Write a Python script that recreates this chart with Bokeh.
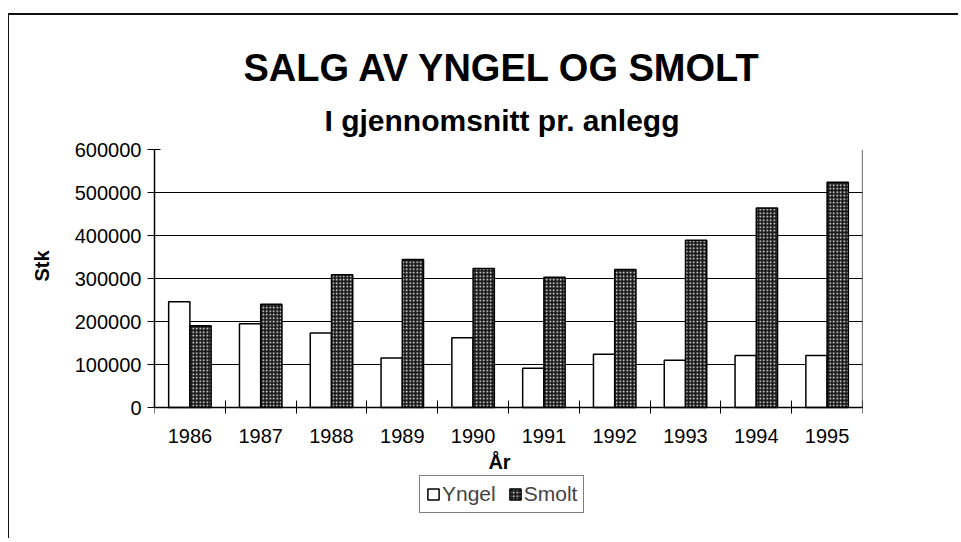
from bokeh.plotting import figure
from bokeh.models import (ColumnDataSource, FixedTicker, Legend, LegendItem, Label,
                          Range1d, BasicTickFormatter, Title)
from bokeh.transform import dodge
from bokeh.embed import file_html
from bokeh.resources import INLINE

# ---- data ----
years = [1986, 1987, 1988, 1989, 1990, 1991, 1992, 1993, 1994, 1995]
yngel = [246000, 195000, 173000, 115000, 162000, 91000, 124000, 110000, 121000, 121000]
smolt = [190000, 240000, 309000, 344000, 323000, 303000, 321000, 389000, 464000, 524000]
y_ticks = [0, 100000, 200000, 300000, 400000, 500000, 600000]
series_names = ["Yngel", "Smolt"]
title_text = "SALG AV YNGEL OG SMOLT"
subtitle_text = "I gjennomsnitt pr. anlegg"
x_label = "År"
y_label = "Stk"

FONT = "Liberation Sans"

# layout (pixels)
W, H = 950, 525
B_LEFT, B_RIGHT, B_TOP, B_BOTTOM = 143, 97, 134, 5
PLOT_H = 258                      # height of the value area (0 .. max)
FRAME_H = H - B_TOP - B_BOTTOM    # frame also holds the axis texts and legend
y_max = y_ticks[-1]
y_min = y_max - y_max * FRAME_H / PLOT_H

src = ColumnDataSource(dict(year=years, yngel=yngel, smolt=smolt))

p = figure(width=W, height=H, output_backend="svg", toolbar_location=None,
           x_range=Range1d(years[0] - 0.5, years[-1] + 0.5),
           y_range=Range1d(y_min, y_max),
           min_border_left=B_LEFT, min_border_right=B_RIGHT, min_border_top=B_TOP,
           min_border_bottom=B_BOTTOM, title=None)
p.margin = (13, 0, 0, 8)
p.styles = {"border-left": "1px solid #111", "border-top": "2px solid #111"}
p.background_fill_color = "white"
p.border_fill_color = "white"
p.outline_line_color = None

r1 = p.vbar(x=dodge("year", -0.15, range=p.x_range), top="yngel", width=0.3, source=src,
            fill_color="white", line_color="black", line_width=1.5)
r2 = p.vbar(x=dodge("year", 0.15, range=p.x_range), top="smolt", width=0.3, source=src,
            fill_color="#1a1a1a", line_color="black", line_width=1.5,
            hatch_pattern="dot", hatch_color="white", hatch_scale=3.5, hatch_weight=1.2)

# right edge of the plot area
p.segment(x0=[years[-1] + 0.5], y0=[y_ticks[0]], x1=[years[-1] + 0.5], y1=[y_max],
          line_color="black", line_width=1.2)

# x axis: labels at centres, tick marks at category boundaries (minor ticks)
xt = FixedTicker(ticks=years, minor_ticks=[y + 0.5 for y in [years[0] - 1] + years])
p.xaxis.fixed_location = y_ticks[0]
p.xaxis.ticker = xt
p.xaxis.formatter = BasicTickFormatter(use_scientific=False)
p.xaxis.major_tick_in = 0
p.xaxis.major_tick_out = 0
p.xaxis.minor_tick_in = 7
p.xaxis.minor_tick_out = 6
p.xaxis.minor_tick_line_color = "black"
p.xaxis.major_label_standoff = 15
p.xaxis.axis_line_color = "black"
p.xaxis.axis_line_width = 1.5

p.yaxis.ticker = FixedTicker(ticks=y_ticks, minor_ticks=[])
p.yaxis.bounds = (y_ticks[0], y_max)
p.yaxis.formatter = BasicTickFormatter(use_scientific=False)
p.yaxis.major_tick_in = 6
p.yaxis.major_tick_out = 7
p.yaxis.major_label_standoff = 6
p.yaxis.axis_line_color = "black"
p.yaxis.axis_line_width = 1.5

for ax in (p.xaxis, p.yaxis):
    ax.major_label_text_font = FONT
    ax.major_label_text_font_size = "20px"
    ax.major_label_text_color = "black"
    ax.major_tick_line_color = "black"

p.xgrid.grid_line_color = None
p.ygrid.grid_line_color = "black"
p.ygrid.grid_line_width = 1
p.ygrid.ticker = FixedTicker(ticks=y_ticks)

# titles (first added sits closest to the plot)
p.add_layout(Title(text=subtitle_text, align="left", offset=170, text_font=FONT,
                   text_color="black", text_font_style="bold", text_font_size="30px",
                   standoff=25), "above")
p.add_layout(Title(text=title_text, align="left", offset=89, text_font=FONT,
                   text_color="black", text_font_style="bold", text_font_size="38px",
                   standoff=2), "above")

# y axis title (left side panel)
p.add_layout(Title(text=y_label, align="right", offset=101, text_font=FONT,
                   text_color="black", text_font_style="bold", text_font_size="20px",
                   standoff=38), "left")

# x axis title (inside the enlarged frame, below the tick labels)
p.add_layout(Label(x=345, y=74, x_units="screen", y_units="screen", text=x_label,
                   text_align="center", text_baseline="middle", text_font=FONT,
                   text_font_style="bold", text_font_size="20px", text_color="black"))

legend = Legend(items=[LegendItem(label=series_names[0], renderers=[r1]),
                       LegendItem(label=series_names[1], renderers=[r2])],
                location=(265, 22), orientation="horizontal",
                border_line_color="black", border_line_width=1,
                background_fill_color="white", padding=6, spacing=12, margin=0,
                label_standoff=2, glyph_width=14, glyph_height=14,
                label_text_font=FONT, label_text_font_size="21px",
                label_height=21)
p.add_layout(legend, "center")

open("out.html", "w").write(file_html(p, INLINE))
